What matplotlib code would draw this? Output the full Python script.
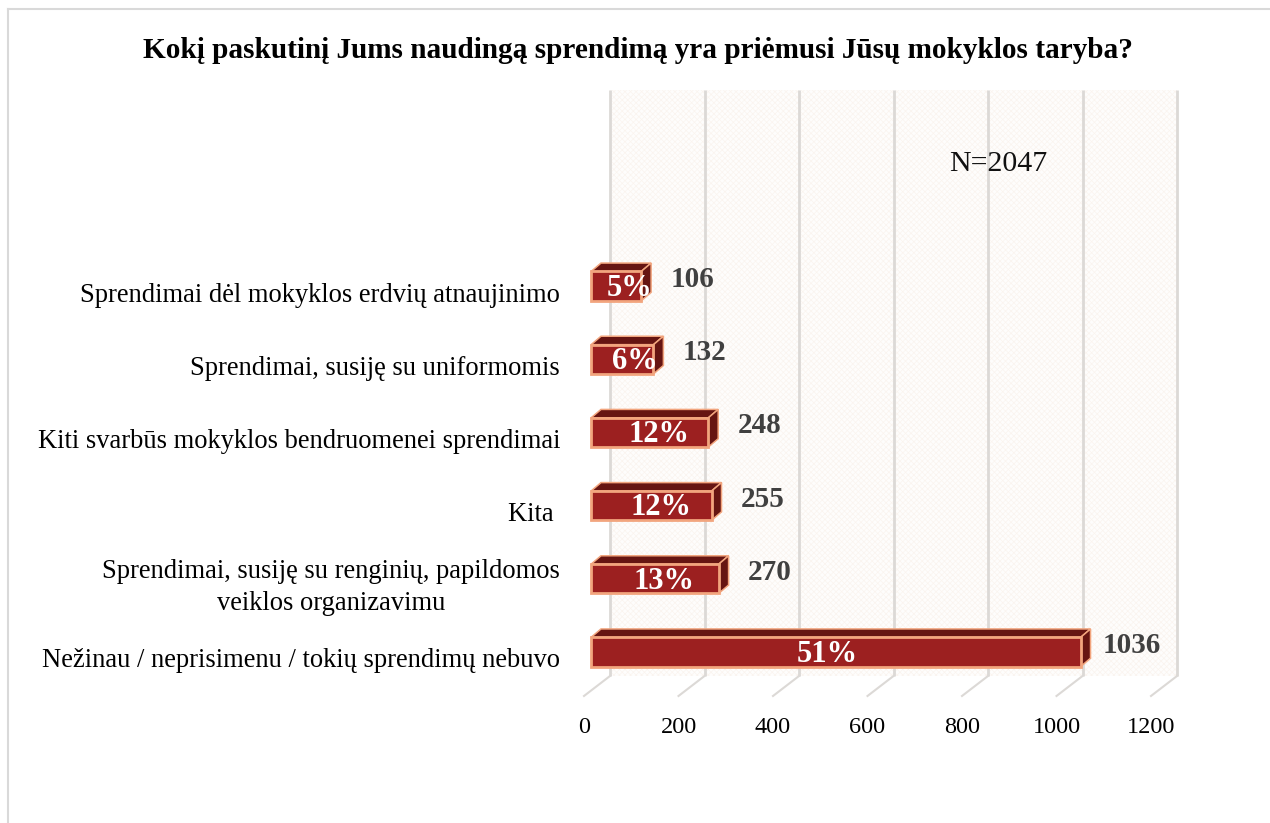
import matplotlib
matplotlib.use("Agg")
import matplotlib.pyplot as plt
from matplotlib.patches import Polygon, Rectangle
from matplotlib.transforms import ScaledTranslation

plt.rcParams['font.family'] = 'Liberation Serif'
plt.rcParams['hatch.linewidth'] = 0.5

# bottom to top, same as the picture
categories = [
    "Nežinau / neprisimenu / tokių sprendimų nebuvo",
    "Sprendimai, susiję su renginių, papildomos\nveiklos organizavimu",
    "Kita ",
    "Kiti svarbūs mokyklos bendruomenei sprendimai",
    "Sprendimai, susiję su uniformomis",
    "Sprendimai dėl mokyklos erdvių atnaujinimo",
]
counts = [1036, 270, 255, 248, 132, 106]
percents = ["51%", "13%", "12%", "12%", "6%", "5%"]
x_ticks = [0, 200, 400, 600, 800, 1000, 1200]

W, H = 1270, 823
GRID = "#dcd9d6"
FRONT = "#9c2020"
DARK = "#661512"
EDGE = "#f2a57e"

fig = plt.figure(figsize=(W / 100, H / 100), dpi=100)

# outer frame, only left and top edges show in the original
fig.add_artist(plt.Line2D([8 / W, 8 / W], [0, 1 - 9 / H], color="#d9d9d9", lw=1.5))
fig.add_artist(plt.Line2D([8 / W, 1], [1 - 9 / H, 1 - 9 / H], color="#d9d9d9", lw=1.5))

# back wall of the fake 3D chart
left, right, top, bottom = 610, 1177, 90, 676
ax = fig.add_axes([left / W, 1 - bottom / H, (right - left) / W, (bottom - top) / H])
ax.set_xlim(0, 1200)
ax.set_ylim(-0.328, 7.68)
for s in ax.spines.values():
    s.set_visible(False)
ax.patch.set_visible(False)
ax.add_patch(Rectangle((0, -0.328), 1200, 8.008, facecolor="#fefdfc", edgecolor="#faf4ef",
                       hatch="xxxxxx", lw=0, zorder=0))

# gridlines on the wall plus the slanted floor lines
floor_dx, floor_dy = -55, -0.273
for t in x_ticks:
    ax.plot([t, t], [-0.328, 7.68], color=GRID, lw=2, zorder=1, solid_capstyle="butt", clip_on=False)
    ax.plot([t, t + floor_dx], [-0.328, -0.328 + floor_dy], color=GRID, lw=1.5, zorder=1, clip_on=False)

# bars: front face + top + side
start = -40
dx, dy = 21, 0.115
half = 0.2
for i, v in enumerate(counts):
    x1 = start + v
    top_face = [(start, i + half), (x1, i + half), (x1 + dx, i + half + dy), (start + dx, i + half + dy)]
    side_face = [(x1, i - half), (x1 + dx, i - half + dy), (x1 + dx, i + half + dy), (x1, i + half)]
    ax.add_patch(Polygon(top_face, facecolor=DARK, edgecolor=EDGE, lw=1.1, zorder=3, clip_on=False))
    ax.add_patch(Polygon(side_face, facecolor=DARK, edgecolor=EDGE, lw=1.1, zorder=3, clip_on=False))
    ax.add_patch(Rectangle((start, i - half), v, 2 * half, facecolor=FRONT, edgecolor=EDGE, lw=2,
                           zorder=4, clip_on=False))
    ax.text(-7 + 0.45 * v, i - 0.03, percents[i], color="white", fontsize=22, fontweight="bold",
            ha="center", va="center", zorder=5)
    ax.text(v + 69, i + 0.09, str(v), color="#404040", fontsize=21, fontweight="bold",
            ha="center", va="center", zorder=5)

# tick labels sit at the front of the floor, so shift them left/down
ax.set_xticks(x_ticks)
ax.set_xticklabels([str(t) for t in x_ticks], fontsize=17.5, color="black")
ax.tick_params(axis="x", length=0, pad=0)
shift = ScaledTranslation(-26 / 100, -41 / 100, fig.dpi_scale_trans)
for lab in ax.get_xticklabels():
    lab.set_transform(lab.get_transform() + shift)

ax.set_yticks(range(len(categories)))
ax.set_yticklabels(categories, fontsize=19.1, color="black", multialignment="center", linespacing=1.4)
ax.tick_params(axis="y", length=0, pad=36)
for lab in ax.get_yticklabels():
    # the two-line label sits a bit higher than the others
    down = 2 if "\n" in lab.get_text() else 6
    lab.set_transform(lab.get_transform() + ScaledTranslation(0, -down / 100, fig.dpi_scale_trans))

fig.text(638 / W, 1 - 51 / H, "Kokį paskutinį Jums naudingą sprendimą yra priėmusi Jūsų mokyklos taryba?",
         fontsize=21.1, fontweight="bold", ha="center", va="center")
fig.text(998 / W, 1 - 164 / H, "N=2047", fontsize=21.5, ha="center", va="center", color="#111111")

fig.savefig("out.png", dpi=100)
